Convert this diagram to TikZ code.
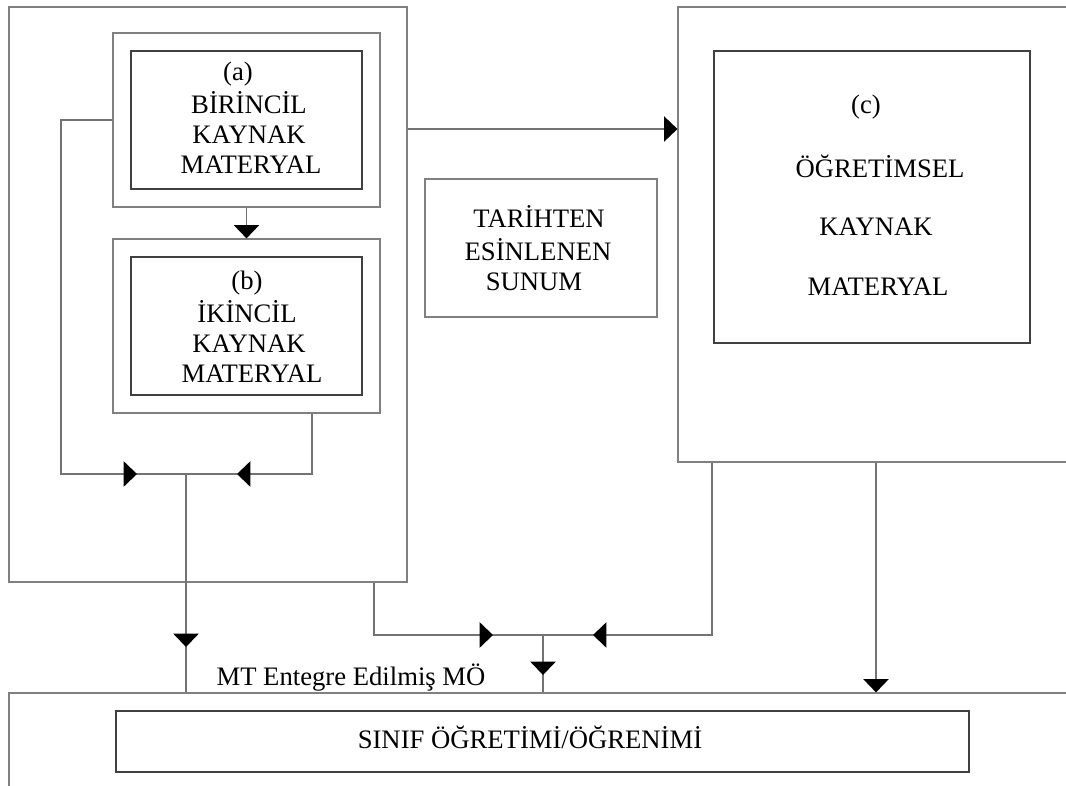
\documentclass[tikz,border=0pt]{standalone}
\usepackage{fontspec}
\setmainfont{Liberation Serif}
\usetikzlibrary{arrows.meta,fit}
\begin{document}
\begin{tikzpicture}[x=0.75pt,y=-0.75pt,
  outerbox/.style={draw=black!50,line width=0.9pt,inner sep=0pt},
  innerbox/.style={draw=black!75,line width=0.9pt,inner sep=0pt},
  conn/.style={draw=black!55,line width=0.8pt},
  arr/.style={conn,-{Triangle[length=10pt,width=19pt,color=black]}},
  txt/.style={anchor=base,inner sep=0pt,font=\fontsize{20}{23}\selectfont}]
\useasboundingbox (0,0) rectangle (1066,785);
\clip (0,0) rectangle (1066,785);
% boxes
\node[outerbox,fit={(9,7) (407,582)}] (L) {};
\node[outerbox,fit={(113,33) (380,207)}] (aO) {};
\node[innerbox,fit={(131,51) (362,189)}] (aI) {};
\node[outerbox,fit={(113,239) (380,413)}] (bO) {};
\node[innerbox,fit={(131,257) (362,395)}] (bI) {};
\node[outerbox,fit={(425,179) (657,317)}] (T) {};
\node[outerbox,fit={(678,7) (1080,462)}] (C) {};
\node[innerbox,fit={(714,51) (1030,343)}] (cI) {};
\node[outerbox,fit={(9,693) (1080,800)}] (S) {};
\node[innerbox,fit={(116,711) (969,772)}] (sI) {};
% texts
\node[txt] (ta0) at (238,80) {(a)};
\node[txt] (ta1) at (249,113) {BİRİNCİL};
\node[txt] (ta2) at (249,143) {KAYNAK};
\node[txt] (ta3) at (251,173) {MATERYAL};
\node[txt] (tb0) at (247,289) {(b)};
\node[txt] (tb1) at (247,322) {İKİNCİL};
\node[txt] (tb2) at (249,352) {KAYNAK};
\node[txt] (tb3) at (252,382) {MATERYAL};
\node[txt] (tt1) at (539,227) {TARİHTEN};
\node[txt] (tt2) at (538,260) {ESİNLENEN};
\node[txt] (tt3) at (534,290) {SUNUM};
\node[txt] (tc0) at (866,113) {(c)};
\node[txt] (tc1) at (880,177) {ÖĞRETİMSEL};
\node[txt] (tc2) at (876,235) {KAYNAK};
\node[txt] (tc3) at (878,295) {MATERYAL};
\node[txt] (tmt) at (351,685) {MT Entegre Edilmiş MÖ};
\node[txt] (ts) at (530,748) {SINIF ÖĞRETİMİ/ÖĞRENİMİ};
% junction / bend coordinates
\coordinate (J1) at (186,474);
\coordinate (ll) at (61,474);
\coordinate (lr) at (312,474);
\coordinate (J2) at (543,635);
\coordinate (ml) at (374,635);
\coordinate (mr) at (712,635);
\coordinate (t1) at (137,474);
\coordinate (t2) at (237,474);
\coordinate (t3) at (186,647);
\coordinate (t4) at (493,635);
\coordinate (t5) at (593,635);
\coordinate (t6) at (543,675);
% connectors
\draw[arr] (aO.south) -- (bO.north);
\draw[conn] (aO.west) -| (ll) -- (J1);
\draw[arr] (ll) -- (t1);
\draw[conn] (bO.south -| lr) -- (lr) -- (J1);
\draw[arr] (lr) -- (t2);
\draw[conn] (J1) -- (J1 |- S.north);
\draw[arr] (J1) -- (t3);
\draw[arr] (L.east |- 0,129) -- (C.west |- 0,129);
\draw[conn] (L.south -| ml) -- (ml) -- (J2);
\draw[arr] (ml) -- (t4);
\draw[conn] (C.south -| mr) -- (mr) -- (J2);
\draw[arr] (mr) -- (t5);
\draw[conn] (J2) -- (J2 |- S.north);
\draw[arr] (J2) -- (t6);
\draw[arr] (C.south -| 876,0) -- (S.north -| 876,0);
\end{tikzpicture}
\end{document}
